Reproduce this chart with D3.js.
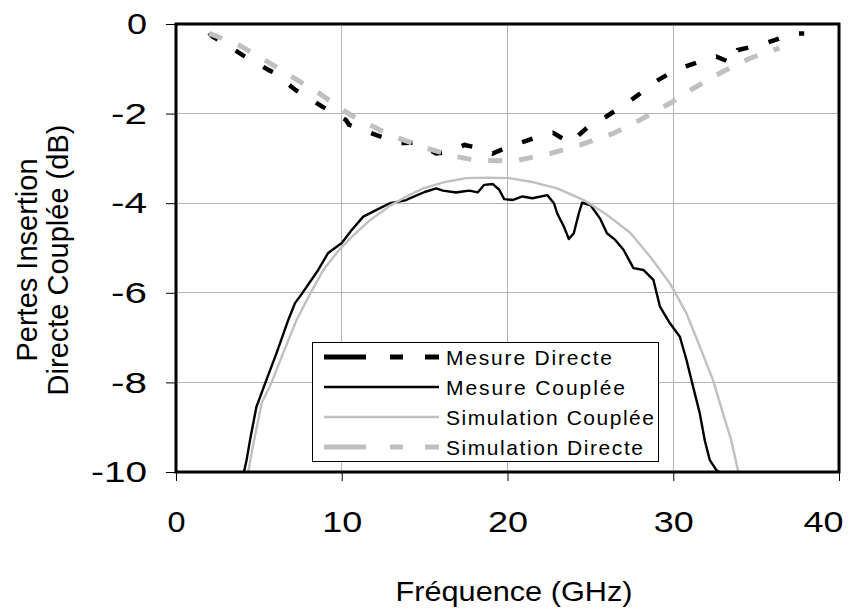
<!DOCTYPE html>
<html><head><meta charset="utf-8">
<script src="https://cdn.jsdelivr.net/npm/d3@7"></script>
<style>body{margin:0;background:#fff}svg{display:block}text{font-family:"Liberation Sans",Arial,sans-serif;fill:#000}</style>
</head><body><svg id="c" width="862" height="612"></svg>
<script>
// ---- data ----
const xTicks = [0, 10, 20, 30, 40];
const yTicks = [0, -2, -4, -6, -8, -10];
const seriesNames = ["Mesure Directe", "Mesure Couplée", "Simulation Couplée", "Simulation Directe"];

const mdFreq = [2.0,2.2,3.0,4.0,5.0,5.6,6.0,7.2,8.0,8.85,10.25,10.45,11.2,12.1,13.5,14.3,15.0,15.7,16.5,17.4,17.9,18.5,19.1,20.0,20.95,22.0,22.76,23.3,23.8,24.3,25.0,25.9,27.2,28.0,28.9,29.7,30.4,31.5,32.6,33.6,33.9,35.2,36.2,37.2,37.9];
const mdVal  = [-0.2,-0.28,-0.45,-0.69,-0.9,-1.03,-1.1,-1.47,-1.65,-1.85,-2.14,-2.25,-2.36,-2.48,-2.66,-2.65,-2.75,-2.89,-2.85,-2.7,-2.74,-2.8,-2.89,-2.75,-2.63,-2.5,-2.43,-2.55,-2.66,-2.48,-2.25,-2.08,-1.77,-1.55,-1.29,-1.12,-0.99,-0.85,-0.73,-0.88,-0.58,-0.47,-0.35,-0.21,-0.21];

const mcFreq = [4.1,4.26,4.5,4.85,5.4,6.07,6.78,7.18,7.58,8.58,9.18,10.0,10.6,11.3,12.1,12.9,13.9,14.1,15.0,15.7,16.1,16.9,17.3,17.7,18.2,18.6,19.1,19.5,19.8,20.3,20.9,21.5,22.4,22.8,23.0,23.4,23.7,24.0,24.3,24.5,25.0,25.6,26.0,26.5,27.0,27.6,28.2,28.8,29.2,29.8,30.4,30.8,31.2,31.6,31.9,32.2,32.6,32.8];
const mcVal  = [-10,-9.73,-9.22,-8.55,-8.0,-7.34,-6.6,-6.23,-6.03,-5.49,-5.11,-4.89,-4.6,-4.3,-4.15,-4.0,-3.93,-3.89,-3.75,-3.67,-3.72,-3.76,-3.74,-3.72,-3.76,-3.59,-3.57,-3.7,-3.91,-3.93,-3.85,-3.89,-3.82,-4.0,-4.23,-4.52,-4.8,-4.67,-4.23,-3.99,-4.04,-4.35,-4.67,-4.82,-5.04,-5.45,-5.49,-5.71,-6.31,-6.68,-6.98,-7.5,-8.1,-8.69,-9.29,-9.73,-9.96,-10.0];

const scFreq = [4.36,4.6,5.17,5.77,6.47,7.28,8.08,8.89,9.69,10.6,11.7,12.9,13.9,14.9,16.3,17.5,18.8,20.1,21.4,23.0,24.6,26.0,27.4,28.6,29.8,30.8,31.6,32.4,33.0,33.5,33.9,34.0];
const scVal  = [-10,-9.5,-8.46,-8.0,-7.34,-6.6,-6.03,-5.49,-5.11,-4.75,-4.38,-4.06,-3.85,-3.67,-3.52,-3.44,-3.43,-3.44,-3.52,-3.67,-3.93,-4.26,-4.66,-5.19,-5.79,-6.46,-7.2,-7.95,-8.69,-9.29,-9.96,-10];

const sdFreq = [2.0,3.8,5.2,7.0,8.65,10.25,10.86,11.9,12.9,15.1,16.9,18.1,19.5,20.65,22.6,24.4,26.4,28.0,29.8,31.2,33.0,34.6,36.4];
const sdVal  = [-0.21,-0.47,-0.77,-1.18,-1.55,-1.96,-2.1,-2.29,-2.48,-2.77,-2.96,-3.04,-3.05,-3.04,-2.89,-2.7,-2.44,-2.14,-1.77,-1.44,-1.06,-0.77,-0.54];

// ---- drawing ----
const svg = d3.select("#c");
const L = 176, R = 839, T = 24, B = 472;
const x = d3.scaleLinear().domain([0, 40]).range([L, R]);
const y = d3.scaleLinear().domain([-10, 0]).range([B, T]);
const GRAY = "#c0c0c0";

// grid
svg.append("g").selectAll("line").data(xTicks.slice(1, -1)).join("line")
  .attr("x1", d => x(d)).attr("x2", d => x(d)).attr("y1", T).attr("y2", B)
  .attr("stroke", "#b4b4b4").attr("stroke-width", 1).attr("shape-rendering", "crispEdges");
svg.append("g").selectAll("line").data(yTicks.slice(1, -1)).join("line")
  .attr("y1", d => y(d)).attr("y2", d => y(d)).attr("x1", L).attr("x2", R)
  .attr("stroke", "#b4b4b4").attr("stroke-width", 1).attr("shape-rendering", "crispEdges");

svg.append("clipPath").attr("id", "clip").append("rect")
  .attr("x", L).attr("y", T).attr("width", R - L).attr("height", B - T);

const line = d3.line().x(d => x(d[0])).y(d => y(d[1]));
const zip = (a, b) => a.map((v, i) => [v, b[i]]);
const g = svg.append("g").attr("clip-path", "url(#clip)");

g.append("path").datum(zip(mdFreq, mdVal)).attr("d", line)
  .attr("fill", "none").attr("stroke", "#000").attr("stroke-width", 4.5).attr("stroke-dasharray", "11,21");
g.append("path").datum(zip(mcFreq, mcVal)).attr("d", line)
  .attr("fill", "none").attr("stroke", "#000").attr("stroke-width", 2.4).attr("stroke-linejoin", "round");
g.append("path").datum(zip(scFreq, scVal)).attr("d", line)
  .attr("fill", "none").attr("stroke", GRAY).attr("stroke-width", 2.4).attr("stroke-linejoin", "round");
g.append("path").datum(zip(sdFreq, sdVal)).attr("d", line)
  .attr("fill", "none").attr("stroke", GRAY).attr("stroke-width", 5).attr("stroke-dasharray", "14,17");

// frame
svg.append("rect").attr("x", L).attr("y", T).attr("width", R - L).attr("height", B - T)
  .attr("fill", "none").attr("stroke", "#000").attr("stroke-width", 3);

// axes
const ax = svg.append("g").attr("transform", `translate(0,${B})`)
  .call(d3.axisBottom(x).tickValues(xTicks).tickSize(9).tickPadding(30).tickFormat(d3.format("d")));
const ay = svg.append("g").attr("transform", `translate(${L},0)`)
  .call(d3.axisLeft(y).tickValues(yTicks).tickSize(10).tickPadding(19).tickFormat(d => d === 0 ? "0" : "-" + Math.abs(d)));
[ax, ay].forEach(a => {
  a.select(".domain").remove();
  a.selectAll(".tick line").attr("stroke", "#000").attr("stroke-width", 1);
  a.selectAll(".tick text").attr("font-size", 30).attr("font-family", "Liberation Sans, Arial, sans-serif")
    .attr("lengthAdjust", "spacingAndGlyphs");
});
ax.selectAll(".tick text").attr("textLength", d => d === 0 ? 18 : 40)
  .attr("dx", d => d === 40 ? -16 : 0);
ay.selectAll(".tick text").attr("textLength", d => d === 0 ? 20 : (d === -10 ? 56 : 36));

// axis titles
svg.append("text").attr("x", 514).attr("y", 601).attr("text-anchor", "middle")
  .attr("font-size", 28).attr("textLength", 237).attr("lengthAdjust", "spacingAndGlyphs").text("Fréquence (GHz)");
const yt = svg.append("text").attr("transform", "translate(0,260) rotate(-90)").attr("text-anchor", "middle")
  .attr("font-size", 29);
yt.append("tspan").attr("x", 0).attr("y", 37).text("Pertes Insertion");
yt.append("tspan").attr("x", 0).attr("y", 68).text("Directe Couplée (dB)");

// legend
const lg = svg.append("g");
lg.append("rect").attr("x", 312.5).attr("y", 342.5).attr("width", 346).attr("height", 119)
  .attr("fill", "#fff").attr("stroke", "#000").attr("stroke-width", 1);
const legStyles = [
  {c: "#000", w: 5, dash: "42,24,13,22,14"},
  {c: "#000", w: 2.4, dash: null},
  {c: GRAY, w: 2.4, dash: null},
  {c: GRAY, w: 5, dash: "42,24,13,22,14"}
];
const legLens = [166, 179, 208, 197];
const rowY = [357, 387, 417, 447];
seriesNames.forEach((n, i) => {
  const s = legStyles[i];
  lg.append("line").attr("x1", 324).attr("x2", 439).attr("y1", rowY[i]).attr("y2", rowY[i])
    .attr("stroke", s.c).attr("stroke-width", s.w).attr("stroke-dasharray", s.dash);
  lg.append("text").attr("x", 446).attr("y", rowY[i] + 8).attr("font-size", 21)
    .attr("textLength", legLens[i]).attr("lengthAdjust", "spacing").text(n);
});
</script></body></html>
